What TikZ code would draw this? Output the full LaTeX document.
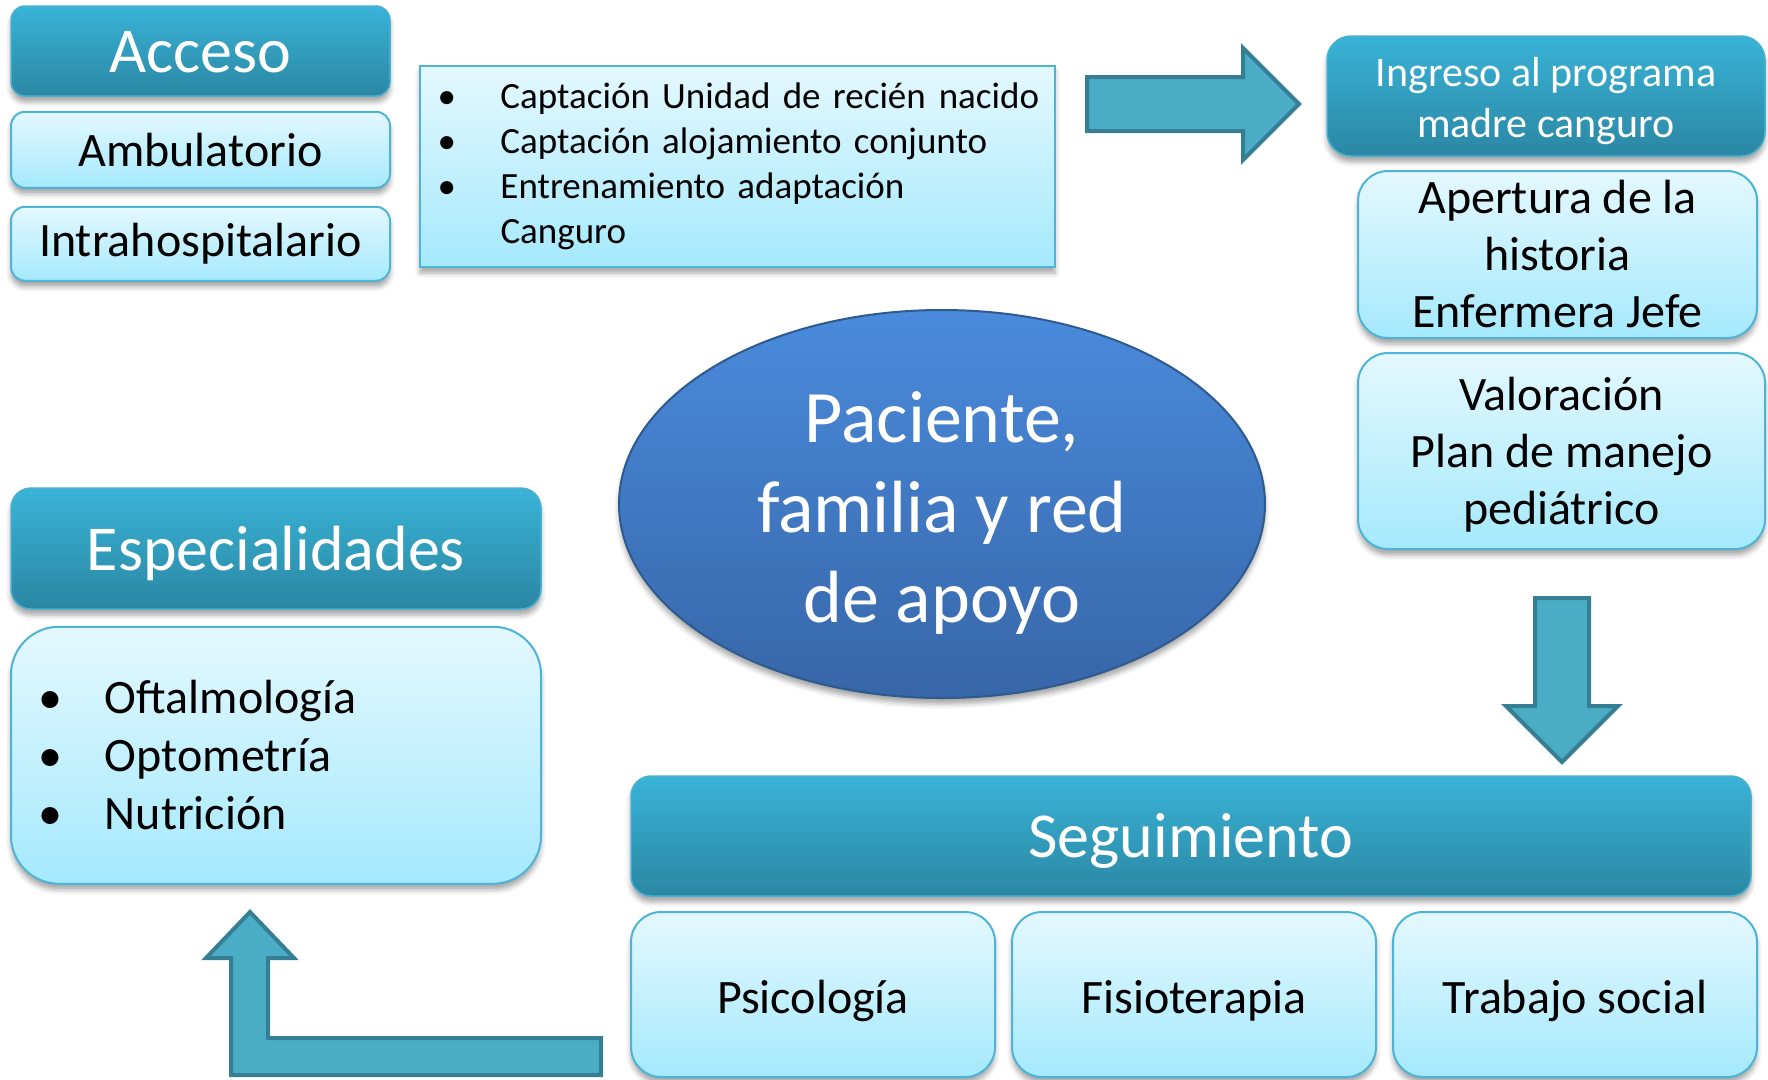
\documentclass[tikz,border=0pt]{standalone}
\usepackage{fontspec}
\setmainfont{Carlito}
\usepackage{xcolor}
\usetikzlibrary{shapes,shapes.arrows,positioning,shadows.blur}

\definecolor{headtop}{HTML}{39B3D7}
\definecolor{headbot}{HTML}{2B87A3}
\definecolor{headline}{HTML}{4AB0D0}
\definecolor{lighttop}{HTML}{E4F8FE}
\definecolor{lightbot}{HTML}{A5E9FD}
\definecolor{lightline}{HTML}{4DB4D6}
\definecolor{arrowfill}{HTML}{4BACC6}
\definecolor{arrowline}{HTML}{357E93}
\definecolor{elltop}{HTML}{4A8BDC}
\definecolor{ellbot}{HTML}{3766A8}
\definecolor{elline}{HTML}{2E5A8E}

\begin{document}
\begin{tikzpicture}[
    x=1pt, y=-1pt,
    softshadow/.style={blur shadow={shadow xshift=0pt, shadow yshift=-6pt, shadow blur radius=5pt, shadow opacity=35}},
    headbox/.style={draw=headline, line width=1.5pt, top color=headtop, bottom color=headbot,
        rounded corners=14pt, text=white, align=center, inner sep=2pt, softshadow,
        font=\fontsize{64}{76}\selectfont, text height=43pt, text depth=0pt},
    lightbox/.style={draw=lightline, line width=2pt, top color=lighttop, bottom color=lightbot,
        rounded corners=14pt, text=black, align=center, inner sep=2pt, softshadow,
        font=\fontsize{48}{58}\selectfont},
    bigarrow/.style={single arrow, draw=arrowline, fill=arrowfill, line width=4pt,
        inner xsep=0pt, inner ysep=25pt, single arrow head extend=29pt}
]
\useasboundingbox (0,0) rectangle (1768,1079);

% acceso
\node[headbox, minimum width=379pt, minimum height=90pt] (acceso) at (200.5,51) {Acceso};
\node[lightbox, minimum width=379pt, minimum height=76pt, below=14pt of acceso] (ambulatorio) {Ambulatorio};
\node[lightbox, minimum width=379pt, minimum height=74pt, below=17pt of ambulatorio] (intrahosp) {Intrahospitalario};

\node[lightbox, sharp corners, anchor=north west, align=left, text width=610pt, inner xsep=12.5pt, minimum height=201pt,
    font=\fontsize{37}{45}\selectfont] (captacion) at (419,65)
    {\begin{tabular}{@{\hspace{5pt}}p{63pt}@{}l@{}}
     • & Captación Unidad de recién\hspace{13pt}nacido\\
     • & Captación alojamiento conjunto\\
     • & Entrenamiento adaptación\\
       & Canguro
     \end{tabular}};

% ingreso
\node[headbox, rounded corners=24pt, minimum width=438pt, minimum height=120pt, font=\fontsize{42}{51}\selectfont,
    text height=, text depth=] (ingreso) at (1546,96) {\rule{0pt}{40pt}Ingreso al programa\\madre canguro};
\node[lightbox, rounded corners=30pt, minimum width=399pt, minimum height=167pt, font=\fontsize{48}{57}\selectfont] (apertura) at (1557.5,254.5) {Apertura de la\\historia\\Enfermera Jefe};
\node[lightbox, rounded corners=30pt, minimum width=407pt, minimum height=196pt, font=\fontsize{48}{57}\selectfont] (valoracion) at (1561.5,451) {\rule{0pt}{41pt}Valoración\\Plan de manejo\\pediátrico};

% centro
\node[ellipse, draw=elline, line width=2pt, top color=elltop, bottom color=ellbot, softshadow,
    minimum width=646pt, minimum height=388pt, inner sep=0pt, text=white, align=center,
    font=\fontsize{74}{90}\selectfont] (paciente) at (942,504) {\rule{0pt}{68pt}Paciente,\\familia y red\\de apoyo};

% seguimiento
\node[headbox, rounded corners=20pt, minimum width=1120pt, minimum height=120pt] (seguimiento) at (1191,836) {Seguimiento};
\node[lightbox, rounded corners=30pt, minimum width=364pt, minimum height=165pt, text height=38pt, text depth=0pt] (psicologia) at (813,994.5) {Psicología};
\node[lightbox, rounded corners=30pt, minimum width=364pt, minimum height=165pt, text height=38pt, text depth=0pt, right=15pt of psicologia] (fisioterapia) {Fisioterapia};
\node[lightbox, rounded corners=30pt, minimum width=364pt, minimum height=165pt, text height=38pt, text depth=0pt, right=15pt of fisioterapia] (trabajo) {Trabajo social};

% especialidades
\node[headbox, rounded corners=20pt, minimum width=530pt, minimum height=121pt] (especialidades) at (276,548.5) {Especialidades};
\node[lightbox, rounded corners=48pt, below=16pt of especialidades, align=left, text width=506pt, inner xsep=12pt, minimum height=257pt] (lista)
    {\hspace*{16pt}\makebox[66pt][l]{•}Oftalmología\\
     \hspace*{16pt}\makebox[66pt][l]{•}Optometría\\
     \hspace*{16pt}\makebox[66pt][l]{•}Nutrición};

% flechas
\node[bigarrow, minimum height=212pt, anchor=tail] (flechader) at (1085,104) {};
\node[bigarrow, minimum height=164pt, shape border rotate=270, inner xsep=25pt, inner ysep=0pt, anchor=tail] (flechaabajo) at (1562,596) {};
\draw[draw=arrowline, fill=arrowfill, line width=4pt]
    (601,1038) -- (268,1038) -- (268,958) -- (294,958) -- (250,912) -- (206,958)
    -- (231,958) -- (231,1075) -- (601,1075) -- cycle;

\end{tikzpicture}
\end{document}
